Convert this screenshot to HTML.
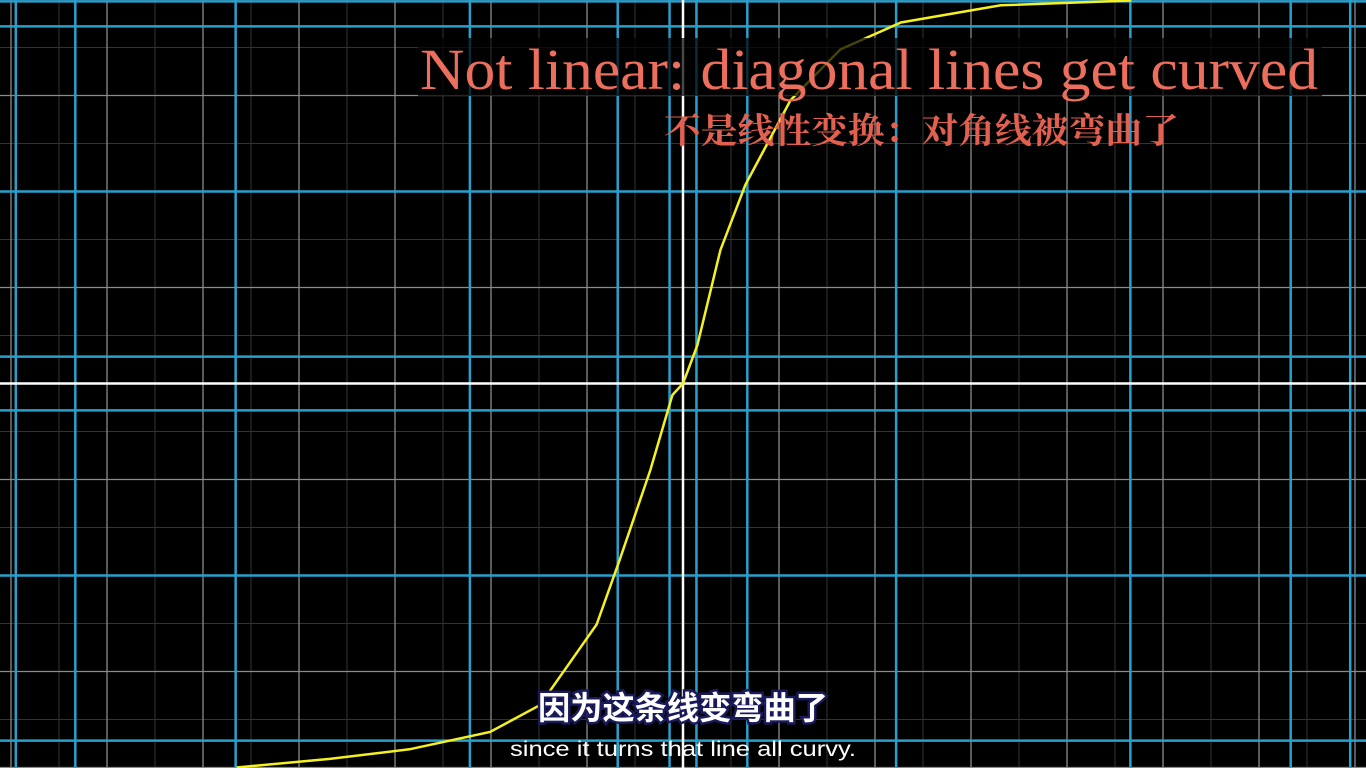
<!DOCTYPE html>
<html><head><meta charset="utf-8">
<style>
html,body{margin:0;padding:0;background:#000;width:1366px;height:768px;overflow:hidden}
svg{display:block;overflow:hidden;vertical-align:top}
</style></head>
<body>
<svg id="chart" width="1366" height="768" viewBox="0 0 1366 768" xmlns="http://www.w3.org/2000/svg">
<rect width="1366" height="768" fill="#000"/>
<g id="grid-faint"></g>
<g id="grid-major"></g>
<g id="grid-blue"></g>
<g id="axes"></g>
<path id="curve" fill="none" stroke="#f5f020" stroke-width="2.5"/>
<rect x="418" y="38" width="904" height="58" fill="#000" opacity="0.72"/>
<text x="420" y="89" font-family="'Liberation Serif',serif" font-size="58" fill="#ec6e5c" textLength="898" lengthAdjust="spacingAndGlyphs">Not linear: diagonal lines get curved</text>
<text x="664" y="143" font-family="'Liberation Serif','Noto Serif CJK SC',serif" font-weight="bold" font-size="35" fill="#e2604f" textLength="515" lengthAdjust="spacingAndGlyphs">不是线性变换：对角线被弯曲了</text>
<text x="683" y="719" text-anchor="middle" font-family="'Liberation Sans','Noto Sans CJK SC',sans-serif" font-weight="bold" font-size="32" fill="#fff" stroke="#1a1a5a" stroke-width="5" paint-order="stroke" textLength="290" lengthAdjust="spacingAndGlyphs">因为这条线变弯曲了</text>
<text x="683" y="756" text-anchor="middle" font-family="'Liberation Sans',sans-serif" font-size="21" fill="#fff" textLength="346" lengthAdjust="spacingAndGlyphs">since it turns that line all curvy.</text>
</svg>
<script>
// grid data (grid units; origin at screen center)
const gridUnits = [-7,-6,-5,-4,-3,-2,-1,1,2,3,4,5,6,7];
const halfUnits = [-7.5,-6.5,-5.5,-4.5,-3.5,-2.5,-1.5,-0.5,0.5,1.5,2.5,3.5,4.5,5.5,6.5,7.5];
// transformed blue line positions (in grid units)
const blueX = [-6.95,-6.33,-4.66,-2.22,-0.68,-0.14,0.14,0.67,2.22,4.66,6.33,6.95];
const blueY = [3.98,3.72,2.0,0.28,-0.28,-2.0,-3.72];
// yellow curve sample points (grid units)
const curveX = [-4.65,-3.68,-2.85,-2.01,-1.49,-0.90,-0.66,-0.34,-0.11,0,0.15,0.39,0.65,1.12,1.64,2.27,3.31,4.67];
const curveY = [-4.0,-3.91,-3.81,-3.63,-3.35,-2.51,-1.84,-0.90,-0.12,0,0.40,1.39,2.07,2.95,3.48,3.76,3.94,3.99];

const CX = 683, CY = 383.5, U = 96;
const sx = v => CX + v*U;
const sy = v => CY - v*U;
const NS = 'http://www.w3.org/2000/svg';
function line(g, x1,y1,x2,y2, stroke, w){
  const l = document.createElementNS(NS,'line');
  l.setAttribute('x1',x1);l.setAttribute('y1',y1);l.setAttribute('x2',x2);l.setAttribute('y2',y2);
  l.setAttribute('stroke',stroke);l.setAttribute('stroke-width',w);
  g.appendChild(l);
  return l;
}
const gf = document.getElementById('grid-faint');
halfUnits.forEach(v=>{
  const a = line(gf, sx(v),0,sx(v),768,'#333',1);
  
  
  const b = line(gf, 0,sy(v),1366,sy(v),'#333',1);
  
  
});
const gm = document.getElementById('grid-major');
gridUnits.forEach(v=>{
  const a = line(gm, sx(v),0,sx(v),768,'#8a8a8a',1.3);
  
  
  const b = line(gm, 0,sy(v),1366,sy(v),'#8a8a8a',1.3);
  
  
});
const gb = document.getElementById('grid-blue');
blueX.forEach(v=>{
  const a = line(gb, sx(v),0,sx(v),768,'#29a0cc',2.5);
  
  
});
blueY.forEach(v=>{
  const b = line(gb, 0,sy(v),1366,sy(v),'#29a0cc',2.5);
  
  
});
const ax = document.getElementById('axes');
const xa = line(ax, 0,CY,1366,CY,'#fff',2.5);


const ya = line(ax, CX,0,CX,768,'#fff',2.5);


let d = '';
curveX.forEach((v,i)=>{ d += (i?'L':'M') + sx(v).toFixed(1) + ',' + sy(curveY[i]).toFixed(1); });
document.getElementById('curve').setAttribute('d', d);
</script>
</body></html>
